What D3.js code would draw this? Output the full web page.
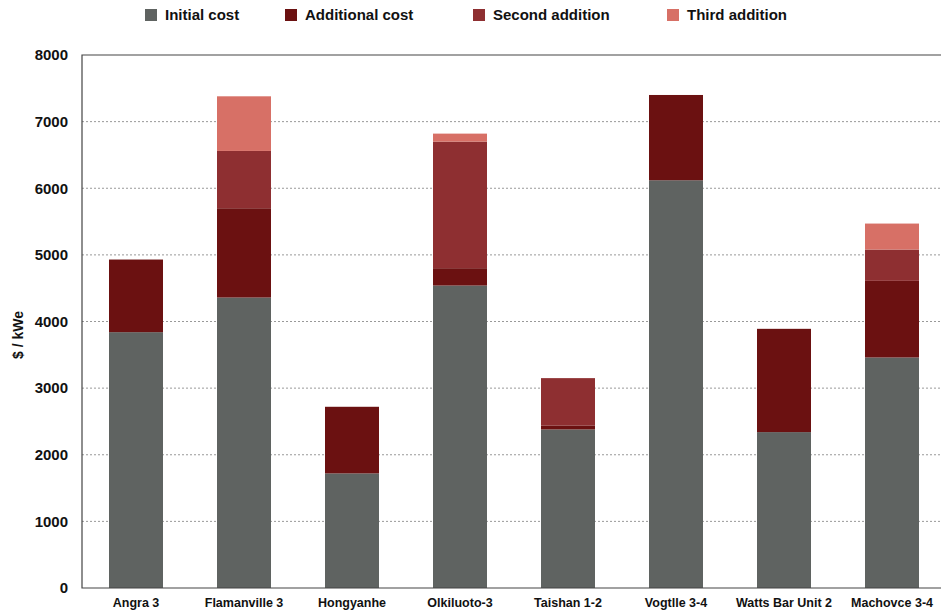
<!DOCTYPE html>
<html>
<head>
<meta charset="utf-8">
<script src="https://cdn.jsdelivr.net/npm/d3@7"></script>
<style>
  body { margin: 0; background: #fff; }
  text { font-family: "Liberation Sans", Arial, sans-serif; font-weight: bold; fill: #111; }
</style>
</head>
<body>
<svg id="chart" width="941" height="614"></svg>
<script>
// plants along the x axis
const plants = ["Angra 3", "Flamanville 3", "Hongyanhe", "Olkiluoto-3", "Taishan 1-2", "Vogtlle 3-4", "Watts Bar Unit 2", "Machovce 3-4"];

// cost pieces in $/kWe (stacked)
const initialCost    = [3840, 4360, 1720, 4540, 2380, 6120, 2340, 3460];
const additionalCost = [1090, 1340, 1000,  260,   60, 1280, 1550, 1150];
const secondAddition = [   0,  860,    0, 1900,  710,    0,    0,  470];
const thirdAddition  = [   0,  820,    0,  120,    0,    0,    0,  390];

const seriesNames = ["Initial cost", "Additional cost", "Second addition", "Third addition"];
const seriesColors = ["#5f6361", "#6b1111", "#8e2f31", "#d77066"];
const yTicks = [0, 1000, 2000, 3000, 4000, 5000, 6000, 7000, 8000];

const svg = d3.select("#chart");
const margin = { top: 55, right: 0, bottom: 26, left: 82 };
const height = 614 - margin.top - margin.bottom;

// build rows for d3.stack
const rows = plants.map((p, i) => ({
    plant: p,
    "Initial cost": initialCost[i],
    "Additional cost": additionalCost[i],
    "Second addition": secondAddition[i],
    "Third addition": thirdAddition[i]
}));
const stacked = d3.stack().keys(seriesNames)(rows);

const x = d3.scaleBand()
    .domain(plants)
    .range([margin.left, margin.left + 864])
    .paddingInner(0.5)
    .paddingOuter(0.25);

const y = d3.scaleLinear()
    .domain([0, 8000])
    .range([margin.top + height, margin.top]);

const color = d3.scaleOrdinal().domain(seriesNames).range(seriesColors);

// dotted gridlines
svg.append("g")
   .selectAll("line")
   .data(yTicks.filter(t => t > 0 && t < 8000))
   .enter().append("line")
   .attr("x1", margin.left)
   .attr("x2", 941)
   .attr("y1", d => y(d))
   .attr("y2", d => y(d))
   .attr("stroke", "#999")
   .attr("stroke-width", 1)
   .attr("stroke-dasharray", "2,2");

// bars
svg.append("g")
   .selectAll("g")
   .data(stacked)
   .enter().append("g")
   .attr("fill", d => color(d.key))
   .selectAll("rect")
   .data(d => d)
   .enter().append("rect")
   .attr("x", d => x(d.data.plant))
   .attr("width", x.bandwidth())
   .attr("y", d => y(d[1]))
   .attr("height", d => y(d[0]) - y(d[1]));

// frame: left, top, bottom
svg.append("path")
   .attr("d", `M941,${y(8000)}H${margin.left}V${y(0)}H941`)
   .attr("fill", "none")
   .attr("stroke", "#444")
   .attr("stroke-width", 1.2);

// Y axis labels
const yAxis = svg.append("g")
   .attr("transform", `translate(${margin.left},0)`)
   .call(d3.axisLeft(y).tickValues(yTicks).tickFormat(d3.format("d")).tickSize(0).tickPadding(14));
yAxis.select(".domain").remove();
yAxis.selectAll("text")
     .style("font-size", "15px")
     .style("font-family", "Liberation Sans, Arial, sans-serif")
     .attr("fill", "#111");

// X axis labels
const xAxis = svg.append("g")
   .attr("transform", `translate(0,${y(0)})`)
   .call(d3.axisBottom(x).tickSize(0).tickPadding(10));
xAxis.select(".domain").remove();
xAxis.selectAll("text")
     .style("font-size", "12.5px")
     .style("font-family", "Liberation Sans, Arial, sans-serif")
     .attr("fill", "#111");

// y title
svg.append("text")
   .attr("transform", "translate(23,335) rotate(-90)")
   .attr("text-anchor", "middle")
   .style("font-size", "14px")
   .text("$ / kWe");

// legend
const legendX = [145, 285, 473, 667];
const legend = svg.append("g")
   .selectAll("g")
   .data(seriesNames)
   .enter().append("g")
   .attr("transform", (d, i) => `translate(${legendX[i]},9)`);
legend.append("rect")
   .attr("width", 12)
   .attr("height", 12)
   .attr("fill", d => color(d));
legend.append("text")
   .attr("x", 20)
   .attr("y", 11)
   .style("font-size", "15px")
   .text(d => d);
</script>
</body>
</html>
